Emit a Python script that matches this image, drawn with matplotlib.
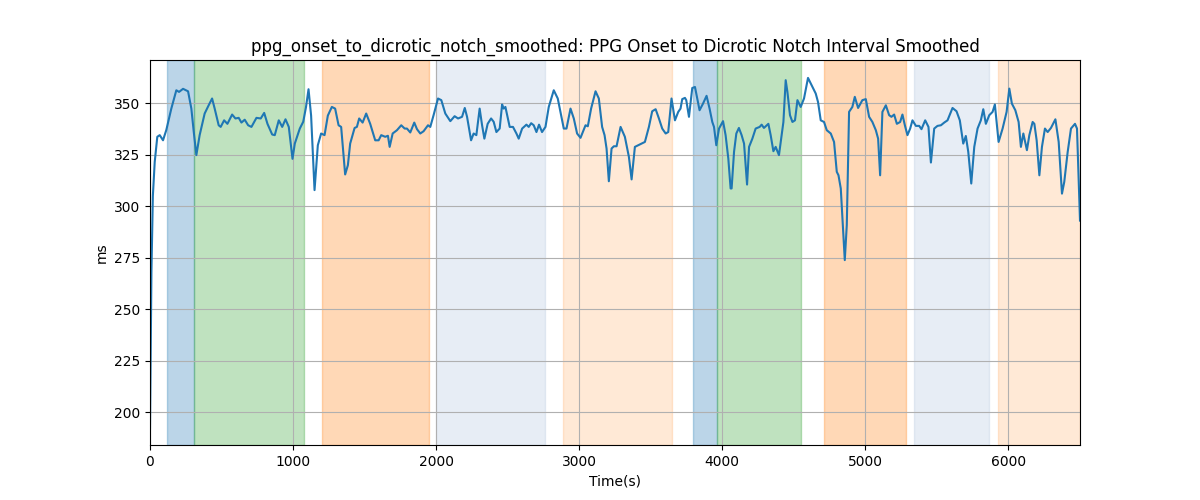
import matplotlib
matplotlib.use("Agg")
import matplotlib.pyplot as plt

# smoothed interval (time, ms)
t = [0, 10, 20, 33, 51, 68, 91, 114, 149, 184, 203, 231, 266, 289, 306, 324, 347, 382, 410, 434,
     452, 480, 494, 518, 541, 574, 597, 620, 639, 662, 686, 709, 744, 774, 798, 821, 854, 872, 900, 924,
     947, 970, 996, 1012, 1047, 1071, 1090, 1108, 1126, 1150, 1173, 1196, 1220, 1243, 1271, 1294, 1318, 1336, 1364, 1383,
     1399, 1430, 1446, 1462, 1486, 1511, 1539, 1574, 1598, 1616, 1644, 1663, 1675, 1696, 1726, 1756, 1780, 1796, 1819, 1847,
     1866, 1889, 1912, 1943, 1959, 1982, 2013, 2036, 2064, 2099, 2129, 2153, 2181, 2200, 2216, 2244, 2262, 2281, 2304, 2321,
     2337, 2360, 2384, 2402, 2421, 2444, 2461, 2472, 2484, 2514, 2537, 2561, 2577, 2601, 2631, 2647, 2664, 2682, 2701, 2719,
     2740, 2764, 2787, 2822, 2850, 2869, 2892, 2911, 2939, 2962, 2985, 3009, 3044, 3060, 3083, 3114, 3137, 3160, 3177, 3191,
     3207, 3226, 3242, 3261, 3289, 3319, 3347, 3366, 3389, 3412, 3436, 3459, 3487, 3510, 3534, 3557, 3580, 3604, 3622, 3645,
     3669, 3692, 3708, 3720, 3739, 3748, 3767, 3790, 3809, 3825, 3841, 3865, 3890, 3911, 3930, 3942, 3958, 3977, 4005, 4023,
     4042, 4058, 4065, 4082, 4098, 4116, 4135, 4152, 4173, 4187, 4210, 4233, 4261, 4275, 4291, 4322, 4338, 4357, 4373, 4396,
     4413, 4427, 4443, 4455, 4473, 4490, 4508, 4525, 4548, 4571, 4599, 4630, 4653, 4669, 4688, 4711, 4730, 4758, 4781, 4800,
     4812, 4828, 4842, 4856, 4870, 4886, 4909, 4926, 4949, 4979, 5003, 5026, 5049, 5073, 5089, 5103, 5119, 5143, 5166, 5182,
     5201, 5220, 5243, 5259, 5276, 5294, 5313, 5329, 5353, 5376, 5392, 5418, 5441, 5458, 5481, 5504, 5528, 5551, 5574, 5609,
     5637, 5660, 5684, 5702, 5719, 5740, 5761, 5784, 5807, 5824, 5842, 5866, 5889, 5905, 5931, 5959, 5987, 6006, 6024, 6048,
     6071, 6087, 6104, 6129, 6146, 6169, 6181, 6197, 6216, 6234, 6255, 6274, 6297, 6328, 6351, 6374, 6390, 6414, 6437, 6465,
     6479, 6500]
ms = [192, 268, 305, 321.5, 333.7, 334.5, 332, 337, 347.4, 356.3, 355.5, 357, 355.8, 347.4, 336, 324.8, 334.5, 345, 349, 352.3,
      347.4, 339.3, 338.5, 341.7, 340, 344.5, 342.6, 342.9, 340.6, 342, 339.3, 338.5, 342.9, 342.6, 345.3, 340, 334.8, 334.5, 341.7, 338.5,
      342.2, 338.5, 323, 330.4, 337.7, 341, 348, 356.8, 344, 307.8, 329.6, 335.3, 334.5, 344, 348.2, 347.4, 339.3, 338.5, 315.4, 319.9,
      330.4, 338, 338.5, 342.6, 340.6, 345, 340, 332, 332, 334.5, 333.7, 334.2, 328.8, 335.3, 336.9, 339.3, 337.7, 337.7, 335.8, 340.6,
      337.4, 335.3, 336.4, 339.3, 338.5, 344.2, 352.3, 351.5, 345, 341.3, 343.7, 342.6, 343.4, 347.7, 343.4, 332, 335.3, 334.5, 347.4, 339.3,
      332.8, 340, 342.6, 341, 336, 337.7, 349.4, 347.4, 348.2, 338.5, 338.5, 335.3, 332.8, 337.7, 339.6, 338.5, 340.3, 339.3, 336, 339.6,
      336, 338.5, 348.2, 356.3, 352.3, 345.8, 337.7, 337.7, 347.4, 342.6, 335.3, 333.2, 339.3, 338.8, 347.4, 355.8, 352.3, 338.5, 334.5, 328,
      312.1, 328, 329.1, 329.1, 338.5, 333.7, 324, 313, 328.8, 329.6, 330.4, 331.2, 338.5, 346.1, 347.1, 342.6, 337.7, 335.3, 336, 352.3,
      341.7, 345.8, 347.4, 352, 352.6, 351.5, 343.4, 357.4, 357.9, 352.3, 346.6, 349.8, 353.6, 347.4, 340.9, 338.5, 329.6, 337.7, 341.3, 334.5,
      323.1, 308.6, 308.6, 326.4, 335.3, 338, 334.5, 330.4, 310.5, 328.8, 332.8, 337.7, 338.5, 339.6, 338, 340, 334.5, 326.7, 328.8, 324.8,
      333.7, 340.9, 361.2, 355.5, 344.2, 340.9, 341.7, 351.5, 348.2, 352.3, 362.3, 357.9, 354.7, 350.6, 341.7, 340.9, 336.9, 335.3, 331.2, 316.7,
      315, 308.6, 290.8, 273.8, 290.8, 345.8, 348.2, 353.1, 347.7, 351.5, 352, 343.4, 340.9, 336.9, 332.8, 315, 345.8, 349, 344.2, 343.4,
      344.5, 340, 340.9, 344.5, 339.3, 334.5, 337.7, 341.7, 339, 339, 337.4, 341.7, 338.5, 321.2, 337.7, 339, 339.3, 340.6, 341.7, 347.7,
      346.1, 341.7, 330.4, 334.1, 326.4, 311, 328.8, 337.7, 341.7, 347.1, 340, 344.2, 345.8, 349.4, 331.2, 337.7, 345.8, 357.1, 349.8, 346.6,
      340.9, 328.8, 335.3, 327.2, 334.5, 340.9, 340, 332, 315, 328.8, 337.7, 336, 338, 342.2, 331.2, 306.1, 311.8, 326.4, 337.7, 340,
      337.7, 293]

# shaded segments: (start, end, colour, alpha)
seg_start = [117, 310, 1201, 2001, 2890, 3793, 3961, 4712, 5339, 5927]
seg_end = [310, 1073, 1950, 2764, 3651, 3961, 4553, 5283, 5862, 6500]
seg_color = ['tab:blue', 'tab:green', 'tab:orange', 'lightsteelblue', 'tab:orange',
             'tab:blue', 'tab:green', 'tab:orange', 'lightsteelblue', 'tab:orange']
seg_alpha = [0.3, 0.3, 0.3, 0.3, 0.17, 0.3, 0.3, 0.3, 0.3, 0.17]

fig, ax = plt.subplots(figsize=(12, 5), dpi=100)

for s, e, c, a in zip(seg_start, seg_end, seg_color, seg_alpha):
    ax.axvspan(s, e, color=c, alpha=a)

ax.plot(t, ms, color='tab:blue', linewidth=1.5)

ax.set_xlim(0, 6500)
ax.set_ylim(184, 371)
ax.grid(True)
ax.set_title('ppg_onset_to_dicrotic_notch_smoothed: PPG Onset to Dicrotic Notch Interval Smoothed')
ax.set_xlabel('Time(s)')
ax.set_ylabel('ms')

fig.savefig('out.png')
